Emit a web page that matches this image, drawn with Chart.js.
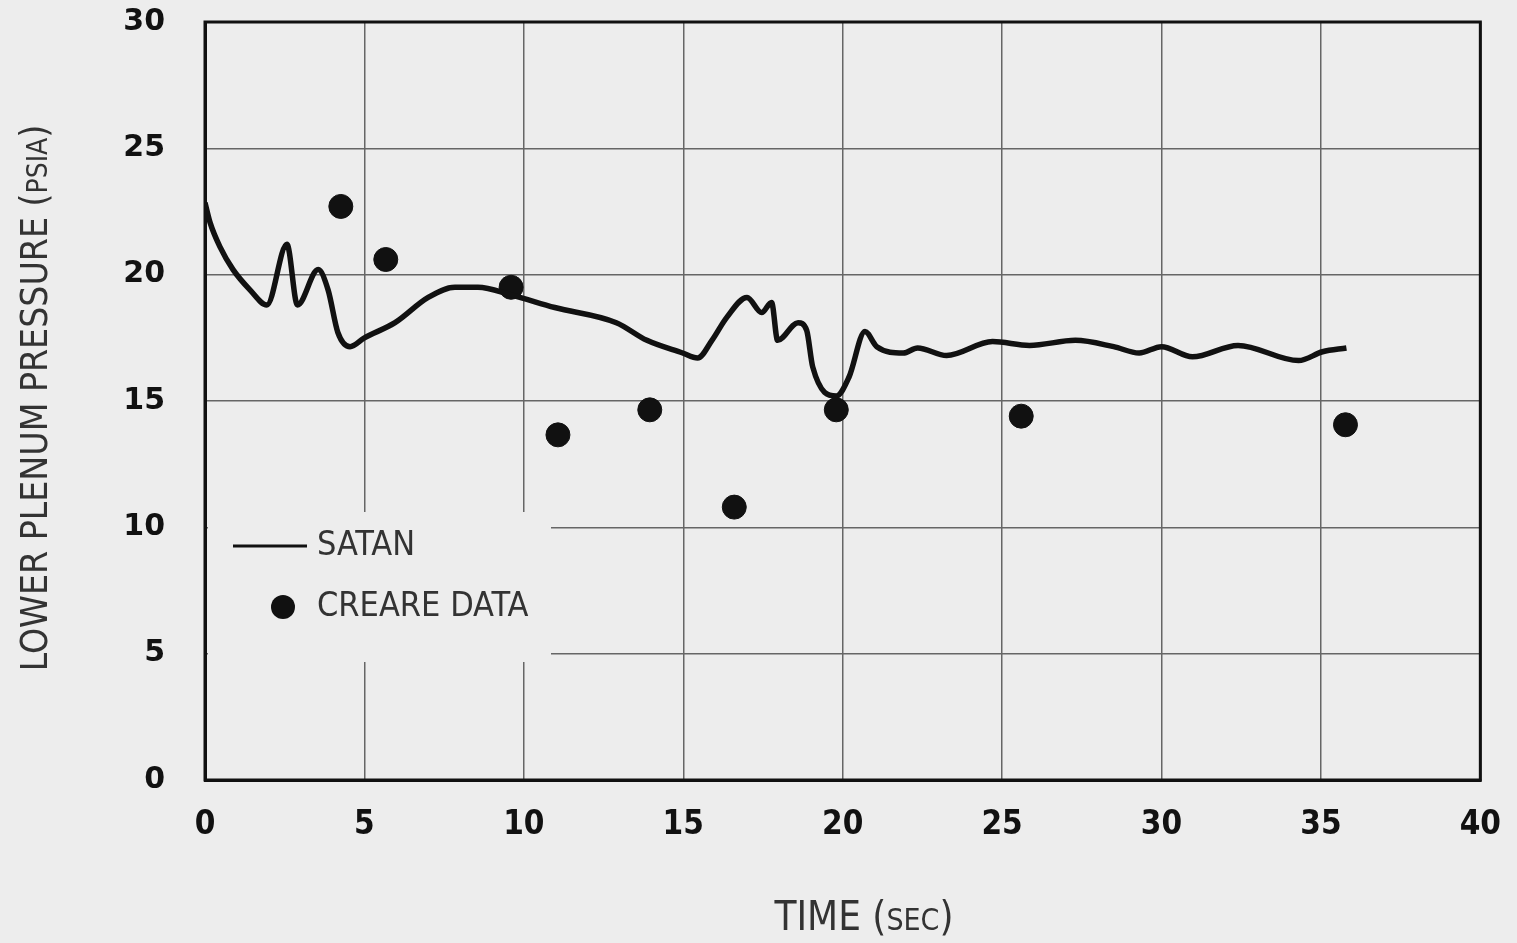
<!DOCTYPE html>
<html>
<head>
<meta charset="utf-8">
<script src="https://cdn.jsdelivr.net/npm/chart.js@4"></script>
<style>
  html, body { margin: 0; padding: 0; background: #ededed; overflow: hidden; }
  #wrap { width: 1517px; height: 943px; position: relative; overflow: hidden; }
  #chart { position: absolute; left: 0; top: -36px; }
</style>
</head>
<body>
<div id="wrap"><canvas id="chart" width="1527" height="979"></canvas></div>
<script>
// SATAN curve (time sec, pressure psia)
const satanTime = [0, 0.16, 0.47, 0.88, 1.41, 1.94, 2.57, 2.9, 3.55, 3.86, 4.17, 4.55, 5.0, 5.96, 7.0, 7.84, 8.56, 9.6, 10.97, 12.9, 13.86, 14.98, 15.45, 15.9, 16.36, 17.0, 17.46, 17.77, 17.96, 18.6, 18.87, 19.06, 19.8, 20.2, 20.7, 21.07, 21.9, 22.35, 23.26, 24.7, 25.86, 27.3, 28.5, 29.3, 30.0, 30.97, 32.4, 34.3, 35.05, 35.8];
const satanPress = [22.85, 22.06, 21.1, 20.2, 19.4, 18.8, 21.2, 18.8, 20.2, 19.4, 17.7, 17.15, 17.5, 18.1, 19.1, 19.5, 19.5, 19.2, 18.7, 18.1, 17.4, 16.9, 16.7, 17.4, 18.3, 19.1, 18.5, 18.9, 17.4, 18.1, 17.8, 16.35, 15.2, 15.95, 17.75, 17.15, 16.9, 17.1, 16.8, 17.35, 17.2, 17.4, 17.15, 16.9, 17.15, 16.75, 17.2, 16.6, 16.95, 17.1];

// CREARE data points
const creareTime = [4.26, 5.67, 9.6, 11.07, 13.95, 16.6, 19.8, 25.6, 35.77];
const crearePress = [22.7, 20.6, 19.5, 13.66, 14.65, 10.8, 14.65, 14.4, 14.06];

const xTicks = [0, 5, 10, 15, 20, 25, 30, 35, 40];
const yTicks = [0, 5, 10, 15, 20, 25, 30];

const narrow = "'Liberation Sans Narrow', 'DejaVu Sans Condensed', sans-serif";
const OFF = 36; // canvas is shifted up by this much

// titles + legend drawn by hand (mixed size text, legend box over grid)
const decorPlugin = {
    id: "decor",
    beforeDatasetsDraw(chart) {
        const ctx = chart.ctx;
        const a = chart.chartArea;
        ctx.save();
        // legend box hides the grid
        ctx.fillStyle = "#ededed";
        ctx.fillRect(a.left + 3, 512 + OFF, 343, 150);
        ctx.strokeStyle = "#111";
        ctx.lineWidth = 3;
        ctx.beginPath();
        ctx.moveTo(233, 546 + OFF);
        ctx.lineTo(307, 546 + OFF);
        ctx.stroke();
        ctx.fillStyle = "#111";
        ctx.beginPath();
        ctx.arc(283, 607 + OFF, 12, 0, Math.PI * 2);
        ctx.fill();
        ctx.fillStyle = "#333";
        ctx.font = "34px " + narrow;
        ctx.textBaseline = "middle";
        ctx.textAlign = "left";
        ctx.fillText("SATAN", 317, 546 + OFF);
        ctx.fillText("CREARE DATA", 317, 607 + OFF);
        ctx.restore();
    },
    afterDraw(chart) {
        const ctx = chart.ctx;
        ctx.save();
        ctx.fillStyle = "#333";
        ctx.textBaseline = "alphabetic";
        // x title
        ctx.font = "40px " + narrow;
        const t1 = "TIME (";
        const w1 = ctx.measureText(t1).width;
        ctx.font = "30px " + narrow;
        const w2 = ctx.measureText("SEC").width;
        ctx.font = "40px " + narrow;
        const w3 = ctx.measureText(")").width;
        let x = 864 - (w1 + w2 + w3) / 2;
        ctx.fillText(t1, x, 930 + OFF);
        ctx.font = "30px " + narrow;
        ctx.fillText("SEC", x + w1, 930 + OFF);
        ctx.font = "40px " + narrow;
        ctx.fillText(")", x + w1 + w2, 930 + OFF);
        // y title
        ctx.translate(47, 398 + OFF);
        ctx.rotate(-Math.PI / 2);
        ctx.font = "37px " + narrow;
        const s1 = "LOWER PLENUM PRESSURE (";
        const v1 = ctx.measureText(s1).width;
        ctx.font = "28px " + narrow;
        const v2 = ctx.measureText("PSIA").width;
        ctx.font = "37px " + narrow;
        const v3 = ctx.measureText(")").width;
        let y = -(v1 + v2 + v3) / 2;
        ctx.fillText(s1, y, 0);
        ctx.font = "28px " + narrow;
        ctx.fillText("PSIA", y + v1, 0);
        ctx.font = "37px " + narrow;
        ctx.fillText(")", y + v1 + v2, 0);
        ctx.restore();
    }
};

new Chart(document.getElementById("chart"), {
    type: "scatter",
    data: {
        datasets: [
            {
                label: "SATAN",
                type: "line",
                data: satanTime.map((t, i) => ({ x: t, y: satanPress[i] })),
                borderColor: "#111",
                borderWidth: 5.5,
                pointRadius: 0,
                cubicInterpolationMode: "monotone",
                fill: false,
            },
            {
                label: "CREARE DATA",
                data: creareTime.map((t, i) => ({ x: t, y: crearePress[i] })),
                backgroundColor: "#111",
                borderColor: "#111",
                pointRadius: 12,
                pointHoverRadius: 12,
            },
        ],
    },
    options: {
        responsive: false,
        animation: false,
        events: [],
        layout: { padding: { top: 0, right: 29, left: 0, bottom: 0 } },
        plugins: { legend: { display: false }, tooltip: { enabled: false } },
        scales: {
            x: {
                type: "linear",
                min: 0,
                max: 40,
                afterBuildTicks: (s) => { s.ticks = xTicks.map((v) => ({ value: v })); },
                afterFit: (s) => { s.height = 163; },
                grid: { color: "#666", lineWidth: 1.5, drawTicks: false },
                border: { color: "#111", width: 3 },
                ticks: {
                    padding: 26,
                    color: "#111",
                    font: { family: "'DejaVu Sans Condensed', sans-serif", weight: "bold", size: 33 },
                },
            },
            y: {
                min: 0,
                max: 30,
                afterBuildTicks: (s) => { s.ticks = yTicks.map((v) => ({ value: v })); },
                afterFit: (s) => { s.width = 205; },
                grid: { color: "#666", lineWidth: 1.5, drawTicks: false },
                border: { color: "#111", width: 3 },
                ticks: {
                    padding: 40,
                    color: "#111",
                    font: { family: "'DejaVu Sans', sans-serif", weight: "bold", size: 30 },
                },
            },
        },
    },
    plugins: [decorPlugin, {
        id: "frame",
        afterDatasetsDraw(chart) {
            const a = chart.chartArea;
            const ctx = chart.ctx;
            ctx.save();
            ctx.strokeStyle = "#111";
            ctx.lineWidth = 3;
            ctx.strokeRect(a.left, a.top, a.right - a.left, a.bottom - a.top);
            ctx.restore();
        }
    }],
});
</script>
</body>
</html>
